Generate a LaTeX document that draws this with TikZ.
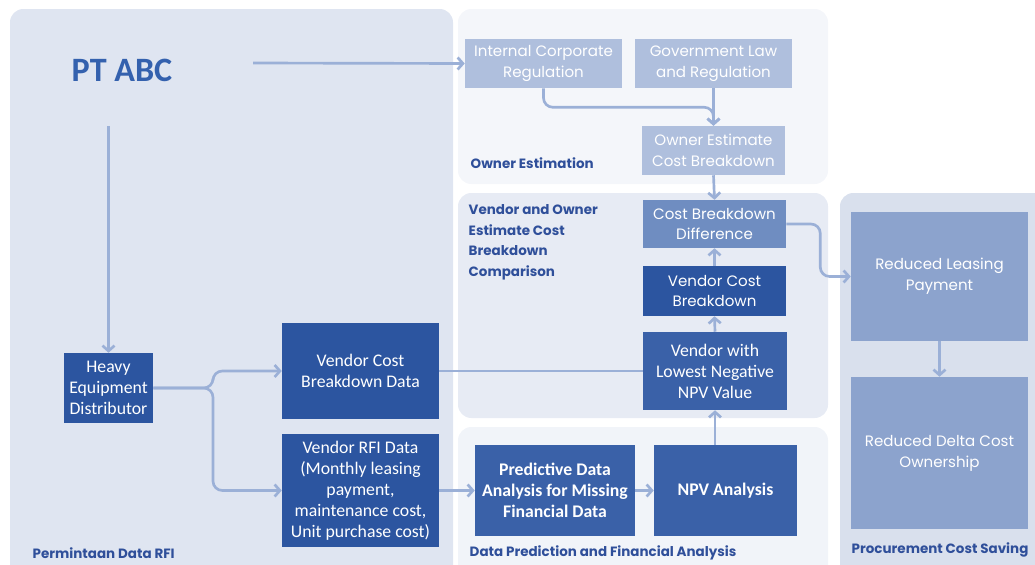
\documentclass[tikz,border=0pt]{standalone}
\usepackage{fontspec}
\setmainfont{Carlito}
\newfontfamily\gothic{Poppins}
\usetikzlibrary{arrows.meta}

\definecolor{leftpanel}{HTML}{DFE5F1}
\definecolor{ownerpanel}{HTML}{F4F6FA}
\definecolor{cmppanel}{HTML}{E7EBF4}
\definecolor{datapanel}{HTML}{F1F4F9}
\definecolor{procpanel}{HTML}{D9E0ED}
\definecolor{lightbox}{HTML}{AFBFDD}
\definecolor{midbox}{HTML}{6F8DC1}
\definecolor{darkbox}{HTML}{2C55A0}
\definecolor{npvbox}{HTML}{3A61A8}
\definecolor{savebox}{HTML}{8CA3CD}
\definecolor{flow}{HTML}{9BB0D7}
\definecolor{lbl}{HTML}{2F4F9A}
\definecolor{brand}{HTML}{3461AE}

\begin{document}
\begin{tikzpicture}[x=0.75pt,y=-0.75pt]
  \tikzset{
    box/.style={text=white, align=center, inner sep=2pt,
      font=\fontsize{13.3}{15.7}\selectfont},
    gbox/.style={box, font=\gothic\fontsize{11.3}{15.7}\selectfont},
    group/.style={text=lbl, anchor=west, align=left,
      font=\gothic\bfseries\fontsize{10.1}{15.4}\selectfont},
    arr/.style={draw=flow, line width=2pt, -{Straight Barb[length=4pt,width=9pt]}},
    link/.style={draw=flow, line width=2pt}
  }
  \useasboundingbox (0,0) rectangle (1035,564);
  \clip (0,0) rectangle (1035,564);
  % panels
  \fill[leftpanel, rounded corners=10] (10,9) rectangle (453,580);
  \fill[ownerpanel, rounded corners=10] (458,9) rectangle (828,184);
  \fill[cmppanel, rounded corners=10] (458,193) rectangle (828,418);
  \fill[datapanel, rounded corners=10] (458,427) rectangle (828,580);
  \fill[procpanel, rounded corners=10] (840,193) rectangle (1050,580);

  \node[text=brand, font=\bfseries\fontsize{25.6}{28}\selectfont] (ptabc) at (122,70) {PT ABC};
  \coordinate (ptout) at (253,63);
  \coordinate (ptdown) at (108.5,126);

  % owner estimation
  \node[gbox, fill=lightbox, minimum width=117.75pt, minimum height=36.75pt] (intreg) at (543.5,63.5) {Internal Corporate\\Regulation};
  \node[gbox, fill=lightbox, minimum width=117.75pt, minimum height=36.75pt] (govlaw) at (713.5,63.5) {Government Law\\and Regulation};
  \node[gbox, fill=lightbox, minimum width=107.25pt, minimum height=36.75pt] (ownest) at (713.5,150.5) {Owner Estimate\\Cost Breakdown};

  % comparison
  \node[gbox, fill=midbox, minimum width=107.25pt, minimum height=36pt] (cbdiff) at (714.5,224) {Cost Breakdown\\Difference};
  \node[gbox, fill=darkbox, minimum width=107.25pt, minimum height=37.5pt] (vcb) at (714.5,291) {Vendor Cost\\Breakdown};
  \node[box, fill=npvbox, minimum width=108pt, minimum height=58.5pt] (lownpv) at (715,371) {Vendor with\\Lowest Negative\\NPV Value};

  % data prediction
  \node[box, fill=npvbox, minimum width=120pt, minimum height=68.25pt, font=\bfseries\fontsize{13.3}{15.7}\selectfont] (predict) at (555,490.5) {Predictive Data\\Analysis for Missing\\Financial Data};
  \node[box, fill=npvbox, minimum width=107.25pt, minimum height=68.25pt, font=\bfseries\fontsize{13.3}{15.7}\selectfont] (npv) at (725.5,490.5) {NPV Analysis};

  % RFI request
  \node[box, fill=darkbox, minimum width=66.75pt, minimum height=52.5pt] (heavy) at (108.5,388) {Heavy\\Equipment\\Distributor};
  \node[box, fill=darkbox, minimum width=117.75pt, minimum height=72pt] (vcbdata) at (360.5,371) {Vendor Cost\\Breakdown Data};
  \node[box, fill=darkbox, minimum width=117.75pt, minimum height=84.75pt] (rfi) at (360.5,490.5) {Vendor RFI Data\\(Monthly leasing\\payment,\\maintenance cost,\\Unit purchase cost)};

  % cost saving
  \node[gbox, fill=savebox, minimum width=132.75pt, minimum height=96.75pt] (redlease) at (939.5,276.5) {Reduced Leasing\\Payment};
  \node[gbox, fill=savebox, minimum width=132.75pt, minimum height=114pt] (reddelta) at (939.5,453) {Reduced Delta Cost\\Ownership};

  % group labels
  \node[group] (lblowner) at (466,163) {Owner Estimation};
  \node[group, anchor=north west] (lblcmp) at (464,200) {Vendor and Owner\\Estimate Cost\\Breakdown\\Comparison};
  \node[group] (lbldata) at (465,553) {Data Prediction and Financial Analysis};
  \node[group] (lblrfi) at (28,553) {Permintaan Data RFI};
  \node[group] (lblproc) at (847,550) {Procurement Cost Saving};

  % connectors
  \draw[arr] (ptout) -- (intreg.west);
  \draw[arr] (ptdown) -- (heavy.north);
  \coordinate (split) at (213,388);
  \draw[arr, rounded corners=7pt] (heavy.east) -- (split) |- (vcbdata.west);
  \draw[arr, rounded corners=7pt] (heavy.east) -- (split) |- (rfi.west);
  \draw[arr, rounded corners=7pt] (intreg.south) -- ++(0,19) -| (ownest.north);
  \draw[arr] (govlaw.south) -- (ownest.north);
  \draw[arr] (ownest.south) -- (cbdiff.north);
  \draw[arr] (vcb.north) -- (cbdiff.south);
  \draw[arr] (lownpv.north) -- (vcb.south);
  \draw[arr] (npv.north -| lownpv.south) -- (lownpv.south);
  \draw[arr] (predict.east) -- (npv.west);
  \draw[arr] (rfi.east) -- (predict.west);
  \draw[link] (vcbdata.east) -- (lownpv.west);
  \draw[arr, rounded corners=7pt] (cbdiff.east) -- ++(34,0) |- (redlease.west);
  \draw[arr] (redlease.south) -- (reddelta.north);
\end{tikzpicture}
\end{document}
